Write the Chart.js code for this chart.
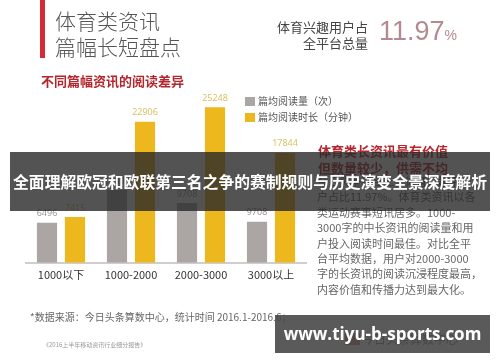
<!DOCTYPE html>
<html>
<head>
<meta charset="utf-8">
<script src="https://cdn.jsdelivr.net/npm/chart.js@4/dist/chart.umd.min.js"></script>
<style>
  html, body { margin: 0; padding: 0; background: #fff; }
  body { width: 500px; height: 362px; position: relative; overflow: hidden;
         font-family: "Noto Sans CJK SC", "Noto Sans", sans-serif; }
  .abs { position: absolute; white-space: nowrap; }
  #chart-wrap { position: absolute; left: 0; top: 0; width: 500px; height: 362px; }
  .red-bar { left: 40px; top: 0; width: 5px; height: 58px; background: #d52a3a; }
  .title { left: 55px; font-size: 21px; font-weight: 300; color: #555; line-height: 25px; }
  .share-lbl { right: 132px; font-size: 13px; color: #444; line-height: 16px; text-align: right; }
  .pct { left: 379px; top: 16px; font-family: "Liberation Sans Narrow", sans-serif; font-size: 27px; color: #b48a92; }
  .pct small { font-size: 14px; }
  .subtitle { left: 41px; top: 73px; font-size: 13px; font-weight: bold; color: #b3262d; line-height: 16px; }
  .legend-item { left: 245px; font-size: 10px; color: #555; line-height: 12px; }
  .legend-item i { display: inline-block; width: 10px; height: 9px; margin-right: 3px; vertical-align: -1px; }
  .side-head { left: 318px; font-size: 13px; font-weight: bold; color: #b5272d; line-height: 17px; }
  .side-body { left: 317px; font-size: 11px; color: #666; line-height: 15.4px; }
  .foot { left: 30px; top: 310px; font-size: 10px; color: #666; line-height: 14px; }
  .foot2 { left: 43px; top: 341px; font-size: 6px; color: #999; line-height: 8px; }
  .logo { left: 345px; top: 332px; font-size: 12px; color: #333; line-height: 14px; }
  .logo b { display: inline-block; width: 15px; height: 12px; background: #c8323a; vertical-align: -1px; margin-right: 2px; }
  .banner { left: 10px; top: 152px; width: 480px; height: 59px; background: rgba(40,40,40,0.8);
            color: #fff; font-size: 15.8px; font-weight: bold; line-height: 59px; text-align: center; }
  .mark { left: 275px; top: 315px; width: 215px; height: 38px; background: rgba(72,72,72,0.9);
          color: #fff; font-family: "Open Sans", sans-serif; font-weight: bold; font-size: 17px;
          line-height: 38px; text-align: center; }
</style>
</head>
<body>
<div id="chart-wrap"><canvas id="readChart"></canvas></div>

<div class="abs red-bar"></div>
<div class="abs title" style="top:8px">体育类资讯</div>
<div class="abs title" style="top:34px">篇幅长短盘点</div>
<div class="abs share-lbl" style="top:19px">体育兴趣用户占</div>
<div class="abs share-lbl" style="top:35px">全平台总量</div>
<div class="abs pct">11.97<small>%</small></div>
<div class="abs subtitle">不同篇幅资讯的阅读差异</div>
<div id="legend"></div>

<div class="abs side-head" style="top:142px">体育类长资讯最有价值</div>
<div class="abs side-head" style="top:159px">但数量较少，供需不均</div>
<div id="side-text"></div>

<div class="abs foot">*数据来源：今日头条算数中心，统计时间 2016.1-2016.6；</div>
<div class="abs foot2">《2016上半年移动资讯行业细分报告》</div>
<div class="abs logo"><b></b>今日头条算数中心</div>

<div class="abs banner">全面理解欧冠和欧联第三名之争的赛制规则与历史演变全景深度解析</div>
<div class="abs mark">www.tiyu-b-sports.com</div>

<script>
/* ================= DATA ================= */
const categories = ['1000以下', '1000-2000', '2000-3000', '3000以上'];
const seriesNames = ['篇均阅读量（次）', '篇均阅读时长（分钟）'];
// bar heights
const readCounts = [6496, 11800, 9708, 6650];
const readTimes = [7415, 22906, 25248, 17844];
// numbers printed above the bars
const readCountLabels = ['6496', '11800', '9708', '9708'];
const readTimeLabels = ['7415', '22906', '25248', '17844'];
const yMax = 30000;

const sideLines = [
    '今日头条平台上，体育兴趣用',
    '户占比11.97%。体育类资讯以各',
    '类运动赛事短讯居多。1000-',
    '3000字的中长资讯的阅读量和用',
    '户投入阅读时间最佳。对比全平',
    '台平均数据，用户对2000-3000',
    '字的长资讯的阅读沉浸程度最高，',
    '内容价值和传播力达到最大化。'
];

const barColors = ['#aba6a4', '#ecb81e'];
const labelColors = ['#9c9896', '#d9c266'];

/* ================= SIDE TEXT & LEGEND ================= */
document.getElementById('side-text').innerHTML = sideLines.map((line, i) =>
    `<div class="abs side-body" style="top:${174 + i * 15.4}px">${line}</div>`
).join('');

document.getElementById('legend').innerHTML = seriesNames.map((name, i) =>
    `<div class="abs legend-item" style="top:${95 + i * 16}px"><i style="background:${barColors[i]}"></i>${name}</div>`
).join('');

/* ================= VALUE LABELS ================= */
const valueLabels = {
    id: 'valueLabels',
    afterDatasetsDraw(chart) {
        const ctx = chart.ctx;
        const texts = [readCountLabels, readTimeLabels];
        ctx.save();
        ctx.font = '9px "Noto Sans", sans-serif';
        ctx.textAlign = 'center';
        ctx.textBaseline = 'middle';
        chart.data.datasets.forEach((ds, di) => {
            ctx.fillStyle = labelColors[di];
            chart.getDatasetMeta(di).data.forEach((bar, i) => {
                ctx.fillText(texts[di][i], bar.x, bar.y - 9);
            });
        });
        ctx.restore();
    }
};

/* ================= CHART ================= */
Chart.defaults.font.family = '"Noto Sans CJK SC", "Noto Sans", sans-serif';

new Chart(document.getElementById('readChart'), {
    type: 'bar',
    data: {
        labels: categories,
        datasets: [
            { label: seriesNames[0], data: readCounts, backgroundColor: barColors[0] },
            { label: seriesNames[1], data: readTimes, backgroundColor: barColors[1] }
        ]
    },
    options: {
        responsive: true,
        maintainAspectRatio: false,
        animation: false,
        categoryPercentage: 0.8,
        barPercentage: 0.72,
        layout: { padding: { left: 26, right: 194, top: 78, bottom: 76 } },
        plugins: { legend: { display: false }, tooltip: { enabled: false } },
        scales: {
            x: {
                grid: { display: false, drawTicks: false },
                border: { color: '#cfcfcf', width: 2 },
                ticks: { color: '#333', font: { size: 11 }, padding: 5 }
            },
            y: { display: false, min: 0, max: yMax }
        }
    },
    plugins: [valueLabels]
});
</script>
</body>
</html>
